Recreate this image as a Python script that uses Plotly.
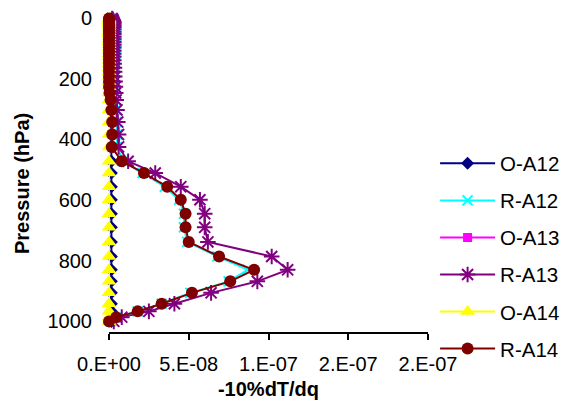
import plotly.graph_objects as go

# Pressure levels (hPa)
pressure = [2, 4, 7, 10, 14, 18, 24, 30, 37, 45, 53, 62, 70, 79, 88, 97,
            108, 118, 128, 139, 151, 164, 177, 193, 209, 227, 247,
            270, 303, 343, 384,
            425, 472, 511, 556, 599, 645, 690, 738, 786, 830, 868, 906, 942, 967, 986, 1000]

o_a12 = [1.5e-9, 1.5e-9, 1.5e-9, 1.5e-9, 1.5e-9, 1.5e-9, 1.5e-9, 1.5e-9, 1.5e-9, 1.5e-9, 1.5e-9, 1.5e-9, 1.5e-9, 1.5e-9, 1.5e-9, 1.5e-9,
         1.5e-9, 1.5e-9, 1.5e-9, 1.5e-9, 1.5e-9, 1.5e-9, 1.5e-9, 1.5e-9, 1.5e-9, 1.5e-9, 1.5e-9,
         1.5e-9, 1.5e-9, 1.5e-9, 1.5e-9,
         1.5e-9, 1.5e-9, 1.5e-9, 1.5e-9, 1.5e-9, 1.5e-9, 1.5e-9, 1.5e-9, 1.5e-9, 1.5e-9, 1.5e-9, 1.5e-9, 1.5e-9, 1.5e-9, 1.5e-9, 1.5e-9]

r_a12 = [1.0e-9, 1.5e-9, 2.0e-9, 2.5e-9, 3.0e-9, 3.5e-9, 4.0e-9, 4.0e-9, 4.2e-9, 4.3e-9, 4.3e-9, 4.4e-9, 4.5e-9, 4.5e-9, 4.4e-9, 4.3e-9,
         4.2e-9, 4.0e-9, 3.9e-9, 3.8e-9, 3.7e-9, 3.6e-9, 3.5e-9, 3.5e-9, 3.6e-9, 3.8e-9, 4.0e-9,
         4.0e-9, 4.2e-9, 4.5e-9, 5.0e-9,
         5.0e-9, 9.0e-9, 2.1e-8, 3.5e-8, 4.4e-8, 4.7e-8, 4.7e-8, 4.9e-8, 6.8e-8, 8.7e-8, 7.5e-8, 5.1e-8, 3.3e-8, 1.8e-8, 5.0e-9, 1.0e-9]

o_a13 = [-2e-9, -2e-9, -2e-9, -2e-9, -2e-9, -2e-9, -2e-9, -2e-9, -2e-9, -2e-9, -2e-9, -2e-9, -2e-9, -2e-9, -2e-9, -2e-9,
         -2e-9, -2e-9, -2e-9, -2e-9, -2e-9, -2e-9, -2e-9, -2e-9, -2e-9, -2e-9, -2e-9,
         -2e-9, -2e-9, -2e-9, -2e-9,
         -2e-9, -2e-9, -2e-9, -2e-9, -2e-9, -2e-9, -2e-9, -2e-9, -2e-9, -2e-9, -2e-9, -2e-9, -2e-9, -2e-9, -2e-9, -2e-9]

r_a13 = [2.0e-9, 2.2e-9, 2.5e-9, 2.8e-9, 3.0e-9, 3.0e-9, 3.0e-9, 3.0e-9, 3.0e-9, 3.0e-9, 3.0e-9, 3.0e-9, 3.0e-9, 3.0e-9, 3.0e-9, 3.0e-9,
         3.0e-9, 3.0e-9, 3.0e-9, 3.0e-9, 3.2e-9, 3.4e-9, 3.5e-9, 3.6e-9, 3.8e-9, 4.0e-9, 4.2e-9,
         4.5e-9, 5.0e-9, 5.5e-9, 6.0e-9,
         6.0e-9, 1.2e-8, 2.9e-8, 4.5e-8, 5.7e-8, 6.0e-8, 6.0e-8, 6.2e-8, 1.02e-7, 1.12e-7, 9.3e-8, 6.4e-8, 4.1e-8, 2.5e-8, 8.0e-9, 3.0e-9]

o_a14 = [0, 0, 0, 0, 0, 0, 0, 0, 0, 0, 0, 0, 0, 0, 0, 0,
         0, 0, 0, 0, 0, 0, 0, 0, 0, 0, 0,
         0, 0, 0, 0,
         0, 0, 0, 0, 0, 0, 0, 0, 0, 0, 0, 0, 0, 0, 0, 0]

r_a14 = [0, 0, 0, 0, 0, 0, 0, 0, 0, 0, 0, 0, 0, 0, 0, 0,
         0, 0, 0, 0, 0, 0, 0, 0, 0, 0, 3e-10,
         1.0e-9, 1.5e-9, 2.0e-9, 2.0e-9,
         1.7e-9, 7.9e-9, 2.19e-8, 3.65e-8, 4.5e-8, 4.8e-8, 4.8e-8, 5.0e-8, 6.9e-8, 9.1e-8, 7.6e-8, 5.2e-8, 3.3e-8, 1.8e-8, 4.5e-9, 0]

series_names = ["O-A12", "R-A12", "O-A13", "R-A13", "O-A14", "R-A14"]
series_values = [o_a12, r_a12, o_a13, r_a13, o_a14, r_a14]

x_tick_vals = [0, 5e-8, 1e-7, 1.5e-7, 2e-7]
x_tick_text = ["0.E+00", "5.E-08", "1.E-07", "2.E-07", "2.E-07"]
y_tick_vals = [0, 200, 400, 600, 800, 1000]

styles = {
    "O-A12": dict(color="#000080", symbol="diamond", size=10, lw=0),
    "R-A12": dict(color="#00FFFF", symbol="x-thin-open", size=10, lw=2),
    "O-A13": dict(color="#FF00FF", symbol="square", size=9, lw=0),
    "R-A13": dict(color="#800080", symbol="asterisk-open", size=13, lw=2),
    "O-A14": dict(color="#FFFF00", symbol="triangle-up", size=13, lw=0),
    "R-A14": dict(color="#800000", symbol="circle", size=12, lw=0),
}

FS = 20
LFS = 20.5

fig = go.Figure()
for name, vals in zip(series_names, series_values):
    s = styles[name]
    marker = dict(symbol=s["symbol"], size=s["size"], color=s["color"])
    if s["lw"]:
        marker["line"] = dict(color=s["color"], width=s["lw"])
    else:
        marker["line"] = dict(width=0)
    fig.add_trace(go.Scatter(
        x=vals, y=pressure, name=name, mode="lines+markers",
        line=dict(color=s["color"], width=2),
        marker=marker, cliponaxis=False, legendgroup=name,
    ))

fig.update_layout(
    width=568, height=402,
    margin=dict(l=109, r=140, t=18, b=70, autoexpand=False),
    paper_bgcolor="white", plot_bgcolor="white",
    font=dict(family="Liberation Sans, Arial, sans-serif", size=FS, color="black"),
    showlegend=True,
    legend=dict(xref="container", yref="container", x=0.766, y=0.643,
                xanchor="left", yanchor="top", font=dict(size=LFS),
                itemwidth=55, tracegroupgap=7.4, bgcolor="rgba(0,0,0,0)",
                maxheight=400),
    xaxis=dict(range=[0, 2e-7], tickvals=x_tick_vals, ticktext=x_tick_text,
               showline=True, linecolor="black", linewidth=2,
               ticks="outside", ticklen=6, tickwidth=2, tickcolor="black",
               showgrid=False, zeroline=False, ticklabelstandoff=7, automargin=False,
               title=dict(text="<b>-10%dT/dq</b>", font=dict(size=FS), standoff=8)),
    yaxis=dict(range=[1035, 0], tickvals=y_tick_vals, showgrid=False, zeroline=False,
               showline=False, ticks="", ticklabelstandoff=16, automargin=False),
    annotations=[dict(text="<b>Pressure (hPa)</b>", textangle=-90, xref="paper", yref="paper",
                      x=(22 - 109) / 319, y=(332 - 184) / 314, showarrow=False,
                      font=dict(size=FS), xanchor="center", yanchor="middle")],
)

fig.write_html("out.html", config={"displayModeBar": False},
               post_script="document.body.style.margin='0';")
